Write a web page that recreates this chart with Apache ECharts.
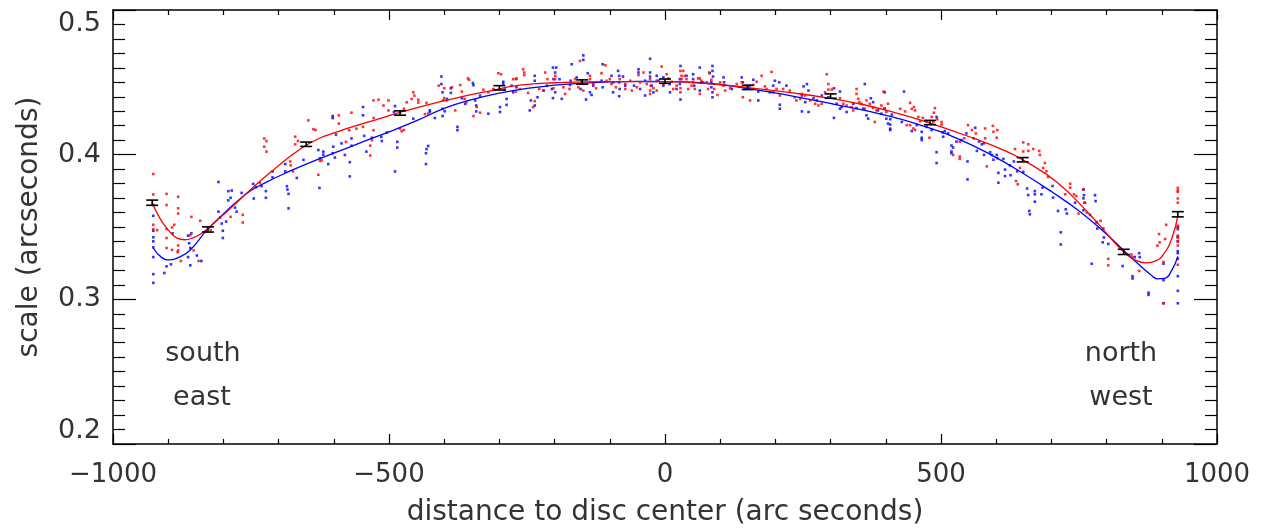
<!DOCTYPE html>
<html><head><meta charset="utf-8">
<script src="https://cdn.jsdelivr.net/npm/echarts@6/dist/echarts.min.js"></script>
<style>html,body{margin:0;padding:0;background:#fff}#c{width:1262px;height:532px}</style>
</head><body><div id="c"></div>
<script>
// ---- data ----
const xLimits = [-1000, 1000];
const yLimits = [0.2, 0.5];
const xTitle = 'distance to disc center (arc seconds)';
const yTitle = 'scale (arcseconds)';
const cornerLabels = [['south', 'east'], ['north', 'west']];

const redPoints = [
[-927,0.3866],[-927,0.3725],[-927,0.3652],[-927,0.3515],[-927,0.3485],[-920,0.3478],[-903,0.3729],[-903,0.3652],[-903,0.3485],[-903,0.3424],[-903,0.3355],[-889,0.3515],[-893,0.3497],[-882,0.3709],[-882,0.3629],[-882,0.3593],[-882,0.3372],[-882,0.3338],[-883,0.3326],[-877,0.3265],[-893,0.3342],[-858,0.357],[-860,0.3444],[-854,0.3338],[-845,0.3265],[-842,0.3543],[-831,0.347],[-823,0.3478],[-787,0.357],[-765,0.3584],[-765,0.3531],[-734,0.3805],[-726,0.4112],[-722,0.4094],[-726,0.4055],[-722,0.4021],[-646,0.4237],[-637,0.4176],[-633,0.417],[-670,0.4124],[-665,0.4094],[-670,0.4071],[-679,0.3953],[-678,0.3926],[-674,0.3884],[-628,0.3861],[-622,0.396],
[-591,0.4272],[-568,0.429],[-591,0.4215],[-572,0.4169],[-559,0.418],[-547,0.4192],[-528,0.4375],[-519,0.438],[-510,0.434],[-501,0.4375],[-501,0.4306],[-528,0.4253],[-528,0.4169],[-531,0.41],[-534,0.4062],[-534,0.3994],[-578,0.4089],[-625,0.3957],[-480,0.418],[-477,0.4162],[-473,0.417],[-473,0.4317],[-468,0.4362],[-459,0.4385],[-456,0.4431],[-454,0.4408],[-447,0.438],[-447,0.436],[-432,0.4358],[-429,0.4283],[-435,0.428],[-410,0.4477],[-400,0.4459],[-400,0.4391],[-402,0.4375],[-395,0.4375],[-386,0.4466],[-380,0.4306],[-371,0.4481],[-368,0.4436],[-357,0.4527],[-355,0.4518],[-363,0.4385],[-360,0.4362],[-347,0.4267],[-341,0.4329],[-335,0.429],[-329,0.4449],[-320,0.4431],[-311,0.4454],[-302,0.4563],[-297,0.4556],[-275,0.4522],[-269,0.4527],
[-257,0.459],[-255,0.4568],[-255,0.455],[-270,0.4522],[-263,0.4454],[-270,0.4436],[-248,0.4427],[-236,0.437],[-239,0.4329],[-228,0.4454],[-217,0.4568],[-220,0.4443],[-213,0.4522],[-199,0.4545],[-199,0.4522],[-202,0.4459],[-181,0.442],[-184,0.4466],[-173,0.4454],[-163,0.4522],[-154,0.4648],[-151,0.4504],[-157,0.4466],[-148,0.4443],[-136,0.4545],[-136,0.4522],[-130,0.4488],[-125,0.4459],[-115,0.4563],[-108,0.4618],[-106,0.4511],[-100,0.4522],[-97,0.4488],[-89,0.4466],[-82,0.4522],[-72,0.4454],[-72,0.4488],[-63,0.4511],[-60,0.4443],[-51,0.4466],[-48,0.455],[-45,0.45],[-39,0.4568],[-33,0.4488],[-27,0.4522],[-27,0.4443],[-27,0.442],[-26,0.4477],[-21,0.4459],[-15,0.4511],[-15,0.4443],[-6,0.4609],[-3,0.4488],[3,0.4556],[6,0.4527],[12,0.4504],[15,0.4454],[21,0.4477],[28,0.4579],[30,0.4545],[30,0.4522],[28,0.4459],[28,0.4431],[33,0.4579],[36,0.4545],[39,0.4522],[42,0.4454],[48,0.4477],[51,0.45],[54,0.4454],[60,0.4527],[63,0.442],[66,0.4511],[76,0.45],[80,0.4568],
[63,0.4527],[69,0.45],[78,0.4454],[84,0.4518],[89,0.4454],[95,0.4413],[100,0.45],[106,0.4477],[109,0.4443],[118,0.4459],[130,0.4488],[139,0.45],[141,0.4397],[148,0.4477],[154,0.4375],[160,0.4482],[166,0.4504],[175,0.4545],[181,0.4472],[184,0.4454],[193,0.4572],[196,0.4431],[202,0.4454],[208,0.4409],[214,0.4454],[226,0.4443],[235,0.4397],[238,0.4375],[245,0.4386],[248,0.442],[254,0.4409],[263,0.4375],[272,0.4352],[278,0.434],[284,0.4352],[290,0.4431],[293,0.4556],[296,0.4488],[296,0.445],[302,0.445],[317,0.439],[323,0.4352],[329,0.434],[338,0.4329],[341,0.4306],[347,0.4454],[347,0.442],[350,0.4386],[352,0.4363],[356,0.4352],[362,0.4318],[365,0.4375],[371,0.4352],[377,0.4322],[380,0.4226],[383,0.4306],[396,0.4436],[392,0.434],[398,0.4318],[401,0.4295],[404,0.4352],
[426,0.4317],[435,0.4299],[444,0.4358],[447,0.4317],[451,0.4329],[453,0.4306],[459,0.4261],[462,0.4231],[444,0.4204],[450,0.4181],[453,0.417],[438,0.4204],[467,0.4254],[474,0.4231],[489,0.4322],[487,0.429],[483,0.4261],[486,0.4226],[493,0.4245],[501,0.4226],[501,0.4208],[479,0.4117],[534,0.409],[542,0.4113],[549,0.4204],[556,0.417],[563,0.4147],[534,0.3987],[534,0.3971],[522,0.3998],[580,0.4181],[580,0.4113],[594,0.4199],[595,0.4158],[602,0.417],[601,0.4117],[583,0.3919],[634,0.4039],[649,0.4085],[658,0.4072],[649,0.4022],[658,0.4026],[667,0.4039],[678,0.4026],[679,0.3998],[643,0.3908],[636,0.3818],[639,0.3795],[685,0.3908],[688,0.3942],[691,0.3885],[694,0.3845],[734,0.3799],[734,0.3772],[725,0.3726],[741,0.3726],[745,0.3714],[758,0.376],[761,0.3668],[764,0.36],[749,0.3593],
[789,0.3543],[782,0.3531],[803,0.328],[803,0.3235],[845,0.331],[847,0.3292],[859,0.3196],[895,0.3451],[896,0.3394],[892,0.3371],[906,0.3417],[908,0.3515],[903,0.3258],[903,0.2973],[929,0.377],[929,0.3752],[929,0.3743],[929,0.3697],[929,0.3668],[929,0.3509],[929,0.3497],[929,0.344],[929,0.3424],[929,0.3401],[929,0.3372],[929,0.3239]
];

const bluePoints = [
[-927,0.3577],[-927,0.3474],[-927,0.3429],[-927,0.3401],[-927,0.336],[-927,0.3292],[-927,0.3174],[-927,0.3114],[-903,0.3228],[-907,0.3182],[-895,0.3242],[-892,0.3456],[-864,0.344],[-858,0.3456],[-862,0.3388],[-860,0.3355],[-864,0.3292],[-860,0.3235],[-848,0.3303],[-840,0.3265],[-809,0.3811],[-809,0.3606],[-806,0.3565],[-803,0.3524],[-801,0.3474],[-801,0.3424],[-791,0.3748],[-785,0.3752],[-787,0.3702],[-791,0.3684],[-779,0.3634],[-776,0.3606],[-795,0.3538],[-767,0.3736],[-746,0.3798],[-741,0.3775],[-745,0.3697],[-731,0.3782],[-723,0.3748],[-723,0.3702],[-711,0.3884],[-711,0.3843],[-688,0.3935],[-685,0.3782],[-684,0.3759],[-682,0.3729],[-682,0.3629],[-688,0.3884],[-667,0.3839],[-655,0.3964],[-628,0.4032],[-619,0.4021],[-619,0.40],[-626,0.377],[-610,0.3935],
[-625,0.3975],[-602,0.4267],[-602,0.4253],[-596,0.4139],[-601,0.4055],[-602,0.401],[-598,0.398],[-586,0.4078],[-580,0.3998],[-571,0.3948],[-571,0.385],[-568,0.4112],[-568,0.4062],[-547,0.4329],[-547,0.4272],[-545,0.413],[-541,0.4021],[-531,0.4117],[-514,0.4123],[-513,0.4094],[-504,0.4153],[-489,0.4336],[-491,0.4295],[-485,0.4089],[-485,0.4049],[-489,0.3884],[-456,0.4249],[-432,0.4039],[-429,0.406],[-433,0.401],[-433,0.3935],[-426,0.4306],[-426,0.4295],[-417,0.4253],[-405,0.454],[-405,0.4488],[-403,0.4431],[-403,0.4317],[-403,0.4267],[-399,0.43],[-388,0.4459],[-388,0.4427],[-395,0.4385],[-376,0.4192],[-376,0.4169],[-368,0.439],[-362,0.4351],[-348,0.4495],[-347,0.448],[-344,0.4375],[-342,0.434],[-342,0.4299],[-335,0.4408],[-320,0.4283],[-299,0.4329],[-299,0.4295],[-293,0.4504],[-293,0.449],[-287,0.4385],[-287,0.4344],[-290,0.445],
[-278,0.4477],[-275,0.4431],[-269,0.4466],[-245,0.4306],[-243,0.4375],[-236,0.434],[-236,0.4545],[-236,0.4511],[-231,0.4397],[-220,0.4443],[-214,0.4477],[-205,0.4454],[-203,0.4602],[-197,0.4602],[-199,0.4568],[-202,0.4522],[-199,0.4431],[-203,0.4391],[-187,0.4386],[-191,0.4522],[-169,0.4625],[-172,0.4482],[-171,0.4511],[-160,0.4534],[-153,0.4454],[-148,0.4686],[-148,0.4655],[-143,0.4381],[-140,0.4563],[-136,0.4431],[-133,0.4413],[-130,0.4477],[-113,0.4625],[-115,0.4511],[-113,0.4466],[-97,0.4545],[-94,0.45],[-94,0.4431],[-85,0.4579],[-83,0.4545],[-83,0.45],[-82,0.4454],[-83,0.4404],[-76,0.454],[-72,0.4477],[-56,0.4477],[-48,0.459],[-48,0.4568],[-45,0.4454],[-36,0.4511],[-36,0.4409],[-27,0.4663],[-27,0.4568],[-27,0.454],[-24,0.4477],[-21,0.4431],[-15,0.4545],[-12,0.4511],[-3,0.4534],[-3,0.4477],[8,0.4488],[9,0.4431],[21,0.4454],[28,0.4613],[28,0.4381],[27,0.4522],[27,0.4488],[39,0.4545],[51,0.4556],[51,0.4522],[53,0.4477],[63,0.4443],[66,0.45],
[63,0.4602],[81,0.4563],[86,0.4613],[86,0.4579],[87,0.454],[84,0.45],[84,0.4466],[86,0.4431],[86,0.4397],[106,0.4534],[107,0.45],[121,0.4454],[139,0.4534],[141,0.45],[145,0.4454],[154,0.4477],[160,0.4518],[169,0.4436],[169,0.4375],[190,0.4431],[196,0.4477],[199,0.4511],[207,0.45],[208,0.4345],[208,0.4318],[220,0.4477],[248,0.4409],[251,0.4472],[257,0.4488],[260,0.4443],[254,0.4363],[248,0.4299],[260,0.4295],[269,0.439],[275,0.4375],[284,0.4409],[296,0.4397],[306,0.4459],[311,0.4352],[317,0.4436],[317,0.4318],[306,0.4254],[320,0.4329],[329,0.4295],[341,0.4352],[347,0.4322],[359,0.4318],[362,0.4488],[365,0.4272],[368,0.4249],[373,0.439],[377,0.4363],[386,0.4306],[392,0.4283],[398,0.4318],[398,0.4431],[401,0.4249],[404,0.4215],[408,0.4245],[408,0.418],[411,0.4277],
[433,0.4436],[408,0.4208],[408,0.417],[429,0.4226],[447,0.4163],[465,0.4158],[465,0.4117],[465,0.4101],[456,0.4204],[474,0.4192],[483,0.417],[492,0.4261],[492,0.4017],[492,0.3942],[503,0.4154],[504,0.4124],[507,0.4163],[513,0.4147],[519,0.4063],[519,0.4022],[522,0.4049],[519,0.401],[528,0.409],[537,0.4101],[548,0.3953],[546,0.4147],[548,0.3829],[559,0.4113],[562,0.4186],[565,0.4026],[569,0.409],[574,0.4072],[578,0.4079],[578,0.3998],[589,0.4017],[592,0.3998],[595,0.3965],[601,0.3998],[602,0.3976],[604,0.3874],[604,0.3806],[613,0.3971],[616,0.3897],[616,0.3852],[625,0.3926],[632,0.3953],[626,0.3858],[638,0.3885],[649,0.3881],[656,0.3766],[658,0.3721],[660,0.3611],[661,0.3588],[670,0.3748],[670,0.3726],[670,0.3675],[682,0.3726],[684,0.3772],[702,0.3783],[703,0.3703],[712,0.3611],[726,0.3622],[728,0.3593],[717,0.3463],[717,0.3379],[743,0.3668],[758,0.3698],
[758,0.3759],[759,0.372],[760,0.3668],[758,0.3616],[779,0.372],[780,0.3679],[770,0.3584],[782,0.3534],[783,0.3489],[794,0.3489],[795,0.3428],[793,0.3394],[803,0.3383],[773,0.3246],[829,0.323],[851,0.3292],[859,0.3319],[860,0.3292],[847,0.316],[847,0.3144],[876,0.3046],[876,0.3031],[903,0.3246],[903,0.3132],[903,0.2973],[929,0.3502],[929,0.3485],[929,0.3433],[929,0.3401],[929,0.3333],[929,0.3319],[929,0.328],[929,0.316],[929,0.3059],[929,0.2973]
];

const redFit = [[-929,0.367],[-915,0.356],[-900,0.348],[-885,0.3425],[-870,0.3412],[-855,0.3425],[-840,0.3455],[-820,0.3518],[-800,0.3585],[-770,0.369],[-740,0.3795],[-710,0.3893],[-680,0.3985],[-650,0.4065],[-625,0.4115],[-600,0.415],[-564,0.4195],[-520,0.4245],[-480,0.4292],[-430,0.4345],[-383,0.4388],[-323,0.4436],[-263,0.448],[-200,0.4497],[-100,0.4505],[0,0.4505],[82,0.449],[154,0.4462],[220,0.4432],[293,0.4393],[360,0.4345],[426,0.428],[480,0.4218],[560,0.4112],[605,0.4045],[649,0.3962],[709,0.3812],[770,0.3585],[800,0.3455],[830,0.333],[850,0.3275],[872,0.3252],[890,0.3268],[903,0.331],[918,0.342],[929,0.3577]];

const blueFit = [[-927,0.3355],[-912,0.329],[-897,0.3273],[-880,0.3292],[-861,0.3338],[-830,0.3478],[-800,0.359],[-776,0.3675],[-750,0.3752],[-722,0.381],[-690,0.3868],[-650,0.3935],[-600,0.401],[-550,0.4085],[-500,0.4158],[-450,0.4235],[-400,0.432],[-350,0.438],[-300,0.4425],[-250,0.4458],[-200,0.448],[-150,0.4495],[-100,0.4503],[-50,0.4506],[0,0.4505],[63,0.4497],[154,0.4455],[245,0.4395],[305,0.435],[408,0.4265],[470,0.4195],[528,0.4115],[590,0.400],[649,0.387],[700,0.3745],[752,0.3605],[800,0.345],[829,0.3345],[860,0.3235],[880,0.317],[892,0.3142],[905,0.3145],[918,0.320],[929,0.3297]];

// error bars: x, y, half-error
const errorBars = [[-929,0.3668,0.0018],[-828,0.3483,0.0018],[-650,0.4072,0.0015],[-480,0.4288,0.0015],[-300,0.4462,0.0015],[-150,0.4502,0.0015],[0,0.4508,0.0015],[150,0.4465,0.0015],[300,0.4405,0.0015],[480,0.4222,0.0015],[648,0.3965,0.0015],[831,0.3328,0.0018],[929,0.3588,0.0018]];

// ---- chart ----
const FONT = '"DejaVu Sans", sans-serif';
const TXT = '#333';
const chart = echarts.init(document.getElementById('c'), null, {renderer: 'canvas'});
const axisLine = {show: true, onZero: false, lineStyle: {color: '#000', width: 1.5}};
const minus = v => String(v).replace('-', '\u2212');

function errRender(params, api) {
  const x = api.value(0), y = api.value(1), e = api.value(2);
  const lo = api.coord([x, y - e]);
  const hi = api.coord([x, y + e]);
  const hw = 6;
  const st = {stroke: '#000', lineWidth: 1.6};
  return {type: 'group', children: [
    {type: 'line', shape: {x1: lo[0], y1: lo[1], x2: hi[0], y2: hi[1]}, style: st},
    {type: 'line', shape: {x1: lo[0]-hw, y1: lo[1], x2: lo[0]+hw, y2: lo[1]}, style: st},
    {type: 'line', shape: {x1: hi[0]-hw, y1: hi[1], x2: hi[0]+hw, y2: hi[1]}, style: st}
  ]};
}

const tickStyle = {color: '#000', width: 1.2};
const option = {
  backgroundColor: '#fff',
  animation: false,
  textStyle: {fontFamily: FONT},
  grid: {left: 113, right: 45, top: 10, bottom: 83, containLabel: false},
  xAxis: [
    {type: 'value', min: xLimits[0], max: xLimits[1], interval: 500, position: 'bottom',
     axisLine, splitLine: {show: false},
     axisTick: {show: true, inside: true, length: 10, lineStyle: tickStyle},
     minorTick: {show: true, splitNumber: 5, length: 5, lineStyle: tickStyle},
     axisLabel: {formatter: minus, fontSize: 26, color: TXT, margin: 18, fontFamily: FONT},
     name: xTitle, nameLocation: 'middle', nameGap: 55,
     nameTextStyle: {fontSize: 28, color: TXT, fontFamily: FONT}},
    {type: 'value', min: xLimits[0], max: xLimits[1], interval: 500, position: 'top',
     axisLine, splitLine: {show: false}, axisLabel: {show: false},
     axisTick: {show: true, inside: true, length: 10, lineStyle: tickStyle},
     minorTick: {show: true, splitNumber: 5, length: 5, lineStyle: tickStyle}}
  ],
  yAxis: [
    {type: 'value', min: yLimits[0], max: yLimits[1], interval: 0.1, position: 'left',
     axisLine, splitLine: {show: false},
     axisTick: {show: true, inside: true, length: 23, lineStyle: tickStyle},
     minorTick: {show: true, splitNumber: 10, length: 12, lineStyle: tickStyle},
     axisLabel: {formatter: v => v.toFixed(1), fontSize: 27, color: TXT, margin: 12, fontFamily: FONT,
                 verticalAlignMaxLabel: 'top', verticalAlignMinLabel: 'bottom'},
     name: yTitle, nameLocation: 'middle', nameGap: 69, nameRotate: 90,
     nameTextStyle: {fontSize: 28, color: TXT, fontFamily: FONT}},
    {type: 'value', min: yLimits[0], max: yLimits[1], interval: 0.1, position: 'right',
     axisLine, splitLine: {show: false}, axisLabel: {show: false},
     axisTick: {show: true, inside: true, length: 23, lineStyle: tickStyle},
     minorTick: {show: true, splitNumber: 10, length: 12, lineStyle: tickStyle}}
  ],
  graphic: [
    {type: 'text', x: 203, y: 354, style: {text: cornerLabels[0][0], font: '27px ' + FONT, fill: TXT, align: 'center', verticalAlign: 'middle'}},
    {type: 'text', x: 202, y: 398, style: {text: cornerLabels[0][1], font: '27px ' + FONT, fill: TXT, align: 'center', verticalAlign: 'middle'}},
    {type: 'text', x: 1121, y: 354, style: {text: cornerLabels[1][0], font: '27px ' + FONT, fill: TXT, align: 'center', verticalAlign: 'middle'}},
    {type: 'text', x: 1121, y: 398, style: {text: cornerLabels[1][1], font: '27px ' + FONT, fill: TXT, align: 'center', verticalAlign: 'middle'}}
  ],
  series: [
    {type: 'scatter', data: bluePoints, symbol: 'rect', symbolSize: 2.6, itemStyle: {color: '#0000ff'}, z: 2, silent: true},
    {type: 'scatter', data: redPoints, symbol: 'rect', symbolSize: 2.6, itemStyle: {color: '#ff0000'}, z: 2, silent: true},
    {type: 'line', data: blueFit, smooth: 0.5, showSymbol: false, lineStyle: {color: '#0000ff', width: 1.3}, z: 3, silent: true},
    {type: 'line', data: redFit, smooth: 0.5, showSymbol: false, lineStyle: {color: '#ff0000', width: 1.3}, z: 3, silent: true},
    {type: 'custom', data: errorBars, renderItem: errRender, z: 4, silent: true}
  ]
};
chart.setOption(option);
</script>
</body></html>
